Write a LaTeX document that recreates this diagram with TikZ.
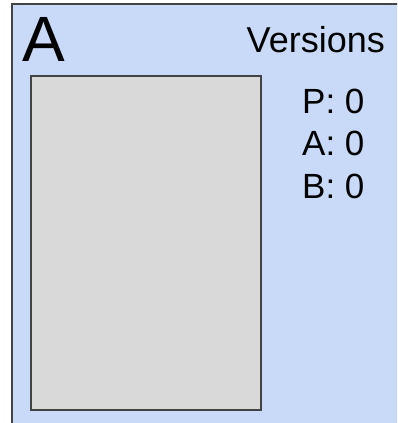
\documentclass[tikz,border=0pt]{standalone}
\usepackage{fontspec}
\setmainfont{Liberation Sans}
\definecolor{panelblue}{HTML}{C9DAF8}
\definecolor{boxgray}{HTML}{D9D9D9}
\definecolor{edgegray}{HTML}{434343}
\begin{document}
\begin{tikzpicture}[x=1pt,y=-1pt,
  panel/.style={draw=edgegray,line width=2pt,fill=panelblue},
  slot/.style={draw=edgegray,line width=2pt,fill=boxgray},
  lbl/.style={inner sep=0pt,text=black},
  ver/.style={lbl,anchor=base west,font=\fontsize{35}{35}\selectfont}]
\useasboundingbox (0,0) rectangle (397,423);
\clip (0,0) rectangle (397,423);
\draw[panel] (12,4) rectangle (405,430);
\draw[slot] (31,75.5) rectangle (261,410);
\node[lbl,anchor=base west,font=\fontsize{64}{64}\selectfont] (title) at (22,61) {A};
\node[lbl,anchor=base east,font=\fontsize{36}{36}\selectfont] (vers) at (385,52) {Versions};
\node[ver] (vp) at (302,113) {P: 0};
\node[ver] (va) at (302,155.5) {A: 0};
\node[ver] (vb) at (302,198) {B: 0};
\end{tikzpicture}
\end{document}
